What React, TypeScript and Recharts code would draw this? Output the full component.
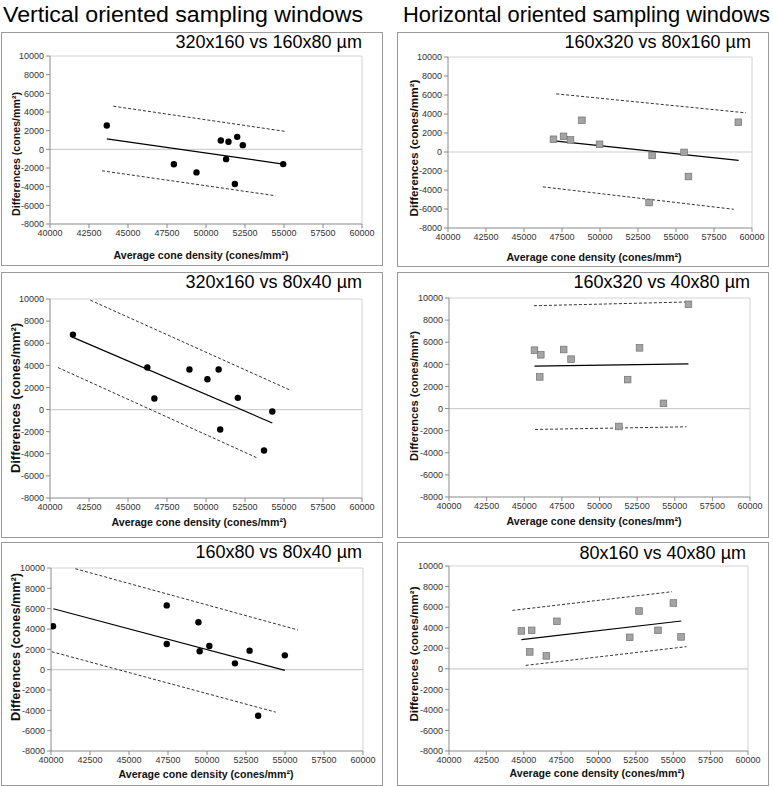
import { ComposedChart, Line, ReferenceLine, Scatter, XAxis, YAxis } from 'recharts';

const FONT = 'Arial, "Liberation Sans", Helvetica, sans-serif';

const densityTicks = [40000, 42500, 45000, 47500, 50000, 52500, 55000, 57500, 60000];
const diffTicks = [-8000, -6000, -4000, -2000, 0, 2000, 4000, 6000, 8000, 10000];

// vertical: 320x160 vs 160x80
const v1Density = [43640, 47940, 49390, 50950, 51290, 51440, 51850, 52000, 52360, 54950];
const v1Diff = [2550, -1600, -2470, 950, -1050, 810, -3720, 1340, 450, -1580];
const v1FitX = [43640, 54950];
const v1FitY = [1130, -1580];
const v1UpperX = [44060, 55140];
const v1UpperY = [4620, 1910];
const v1LowerX = [43340, 54460];
const v1LowerY = [-2300, -4970];

// horizontal: 160x320 vs 80x160
const h1Density = [46940, 47600, 48060, 48810, 49970, 53430, 53230, 55530, 55820, 59100];
const h1Diff = [1340, 1650, 1270, 3340, 810, -360, -5320, -40, -2580, 3130];
const h1FitX = [46840, 59120];
const h1FitY = [1190, -880];
const h1UpperX = [47120, 59610];
const h1UpperY = [6120, 4120];
const h1LowerX = [46240, 58800];
const h1LowerY = [-3670, -6030];

// vertical: 320x160 vs 80x40
const v2Density = [41470, 46240, 46690, 48940, 50090, 50810, 50910, 52040, 53720, 54250];
const v2Diff = [6780, 3800, 1000, 3620, 2740, 3620, -1810, 1060, -3710, -180];
const v2FitX = [41400, 54250];
const v2FitY = [6570, -1210];
const v2UpperX = [42590, 55410];
const v2UpperY = [9890, 1750];
const v2LowerX = [40510, 53230];
const v2LowerY = [3800, -4340];

// horizontal: 160x320 vs 40x80
const h2Density = [45680, 46100, 46030, 47620, 48110, 51290, 51870, 52660, 54250, 55910];
const h2Diff = [5280, 4860, 2860, 5340, 4470, -1620, 2620, 5490, 470, 9430];
const h2FitX = [45680, 55910];
const h2FitY = [3830, 4040];
const h2UpperX = [45640, 55870];
const h2UpperY = [9300, 9640];
const h2LowerX = [45720, 55780];
const h2LowerY = [-1890, -1650];

// vertical: 160x80 vs 80x40
const v3Density = [40130, 47420, 47420, 49450, 49530, 50150, 51790, 52730, 53280, 54990];
const v3Diff = [4270, 6320, 2530, 4670, 1810, 2330, 620, 1870, -4540, 1410];
const v3FitX = [40150, 54990];
const v3FitY = [5990, -70];
const v3UpperX = [41560, 55820];
const v3UpperY = [9930, 3910];
const v3LowerX = [40040, 54410];
const v3LowerY = [1770, -4180];

// horizontal: 80x160 vs 40x80
const h3Density = [44840, 45400, 45530, 46510, 47220, 52090, 52710, 53980, 55010, 55520];
const h3Diff = [3680, 1640, 3740, 1250, 4620, 3060, 5620, 3740, 6400, 3100];
const h3FitX = [44840, 55540];
const h3FitY = [2830, 4650];
const h3UpperX = [44240, 54920];
const h3UpperY = [5680, 7500];
const h3LowerX = [45130, 55880];
const h3LowerY = [330, 2150];

interface Pt {
  x: number;
  y: number;
}

const pairs = (xs: number[], ys: number[]): Pt[] => xs.map((x, i) => ({ x, y: ys[i] }));

const Dot = (props: any) => <circle cx={props.cx} cy={props.cy} r={3.2} fill="#000" />;
const Square = (props: any) => (
  <rect
    x={props.cx - 3.3}
    y={props.cy - 3.3}
    width={6.6}
    height={6.6}
    fill="#a4a4a4"
    stroke="#707070"
    strokeWidth={0.7}
  />
);

interface PanelProps {
  box: number[];
  plot: number[];
  points: Pt[];
  fit: Pt[];
  upper: Pt[];
  lower: Pt[];
  square?: boolean;
}

const YW = 44;
const XH = 22;
const MT = 4;
const MR = 18;

const tickStyle = { fill: '#333', fontSize: 9, fontFamily: FONT };

function Panel({ box, plot, points, fit, upper, lower, square }: PanelProps) {
  const [bl, bt, bw, bh] = box;
  const [pl, pt, pw, ph] = plot;
  return (
    <>
      <div
        style={{
          position: 'absolute',
          left: bl,
          top: bt,
          width: bw,
          height: bh,
          boxSizing: 'border-box',
          border: '1px solid #9a9a9a',
          background: '#fff',
        }}
      />
      <div style={{ position: 'absolute', left: pl - YW, top: pt - MT }}>
        <ComposedChart
          width={YW + pw + MR}
          height={MT + ph + XH}
          margin={{ top: MT, right: MR, left: 0, bottom: 0 }}
        >
          <XAxis
            type="number"
            dataKey="x"
            domain={[40000, 60000]}
            ticks={densityTicks}
            interval={0}
            height={XH}
            tick={tickStyle}
            tickSize={4}
            tickMargin={2}
            stroke="#8a8a8a"
            allowDataOverflow
          />
          <YAxis
            type="number"
            dataKey="y"
            domain={[-8000, 10000]}
            ticks={diffTicks}
            interval={0}
            width={YW}
            tick={tickStyle}
            tickSize={4}
            tickMargin={2}
            stroke="#8a8a8a"
            allowDataOverflow
          />
          <ReferenceLine y={10000} stroke="#d2d2d2" />
          <ReferenceLine x={60000} stroke="#d2d2d2" />
          <ReferenceLine y={0} stroke="#cfcfcf" strokeWidth={1.2} />
          <Line
            data={upper}
            dataKey="y"
            type="linear"
            stroke="#333"
            strokeWidth={1}
            strokeDasharray="3 2"
            dot={false}
            activeDot={false}
            isAnimationActive={false}
          />
          <Line
            data={lower}
            dataKey="y"
            type="linear"
            stroke="#333"
            strokeWidth={1}
            strokeDasharray="3 2"
            dot={false}
            activeDot={false}
            isAnimationActive={false}
          />
          <Line
            data={fit}
            dataKey="y"
            type="linear"
            stroke="#000"
            strokeWidth={1.2}
            dot={false}
            activeDot={false}
            isAnimationActive={false}
          />
          <Scatter data={points} dataKey="y" shape={square ? Square : Dot} isAnimationActive={false} />
        </ComposedChart>
      </div>
    </>
  );
}

const X_TITLE = 'Average cone density (cones/mm\u00b2)';
const Y_TITLE = 'Differences (cones/mm\u00b2)';

// [title, right edge, baseline, x-title center, x-title baseline, y-title baseline x, y-title center, y-title length]
const labels: Array<[string, number, number, number, number, number, number, number]> = [
  ['320x160 vs 160x80 \u00b5m', 362, 48, 201, 259, 20, 154, 124],
  ['160x320 vs 80x160 \u00b5m', 751, 48, 594, 261, 418, 148, 137],
  ['320x160 vs 80x40 \u00b5m', 362, 288, 199, 526, 20, 398, 150],
  ['160x320 vs 40x80 \u00b5m', 750, 288, 594, 525, 418, 396, 130],
  ['160x80 vs 80x40 \u00b5m', 362, 558, 206, 778, 20, 647, 148],
  ['80x160 vs 40x80 \u00b5m', 746, 559, 597, 777, 418, 654, 135],
];

export default function App() {
  return (
    <div style={{ position: 'absolute', left: 0, top: 0, width: 773, height: 787, background: '#fff', overflow: 'hidden' }}>
      <Panel
        box={[1, 32, 382, 234]}
        plot={[50, 56, 312, 168]}
        points={pairs(v1Density, v1Diff)}
        fit={pairs(v1FitX, v1FitY)}
        upper={pairs(v1UpperX, v1UpperY)}
        lower={pairs(v1LowerX, v1LowerY)}
      />
      <Panel
        box={[397, 32, 372, 235]}
        plot={[448, 57, 304, 171]}
        points={pairs(h1Density, h1Diff)}
        fit={pairs(h1FitX, h1FitY)}
        upper={pairs(h1UpperX, h1UpperY)}
        lower={pairs(h1LowerX, h1LowerY)}
        square
      />
      <Panel
        box={[1, 272, 382, 266]}
        plot={[50, 299, 312, 199]}
        points={pairs(v2Density, v2Diff)}
        fit={pairs(v2FitX, v2FitY)}
        upper={pairs(v2UpperX, v2UpperY)}
        lower={pairs(v2LowerX, v2LowerY)}
      />
      <Panel
        box={[397, 272, 372, 266]}
        plot={[449, 298, 301, 199]}
        points={pairs(h2Density, h2Diff)}
        fit={pairs(h2FitX, h2FitY)}
        upper={pairs(h2UpperX, h2UpperY)}
        lower={pairs(h2LowerX, h2LowerY)}
        square
      />
      <Panel
        box={[1, 542, 382, 244]}
        plot={[51, 568, 312, 183]}
        points={pairs(v3Density, v3Diff)}
        fit={pairs(v3FitX, v3FitY)}
        upper={pairs(v3UpperX, v3UpperY)}
        lower={pairs(v3LowerX, v3LowerY)}
      />
      <Panel
        box={[397, 542, 372, 244]}
        plot={[449, 566, 299, 185]}
        points={pairs(h3Density, h3Diff)}
        fit={pairs(h3FitX, h3FitY)}
        upper={pairs(h3UpperX, h3UpperY)}
        lower={pairs(h3LowerX, h3LowerY)}
        square
      />
      <svg
        width={773}
        height={787}
        style={{ position: 'absolute', left: 0, top: 0, pointerEvents: 'none' }}
        fontFamily={FONT}
      >
        <text x={3} y={22} fontSize={22} textLength={360} lengthAdjust="spacingAndGlyphs" fill="#000">
          Vertical oriented sampling windows
        </text>
        <text x={403} y={22} fontSize={22} textLength={367} lengthAdjust="spacingAndGlyphs" fill="#000">
          Horizontal oriented sampling windows
        </text>
        {labels.map(([title, right, base, xc, xb, yx, yc, ylen]) => (
          <g key={title}>
            <text x={right} y={base} fontSize={18} textAnchor="end" fill="#000">
              {title}
            </text>
            <text
              x={xc}
              y={xb}
              fontSize={10.5}
              fontWeight="bold"
              textAnchor="middle"
              textLength={175}
              lengthAdjust="spacingAndGlyphs"
              fill="#111"
            >
              {X_TITLE}
            </text>
            <text
              x={yx}
              y={yc}
              transform={`rotate(-90 ${yx} ${yc})`}
              fontSize={ylen / 11.67}
              fontWeight="bold"
              textAnchor="middle"
              textLength={ylen}
              lengthAdjust="spacingAndGlyphs"
              fill="#111"
            >
              {Y_TITLE}
            </text>
          </g>
        ))}
      </svg>
    </div>
  );
}
